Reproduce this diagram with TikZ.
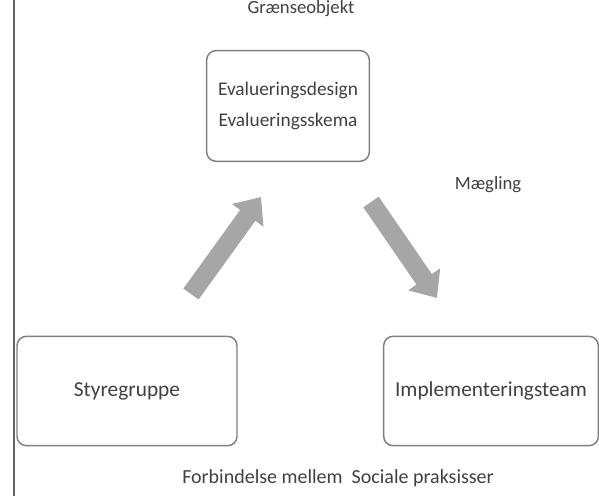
\documentclass[tikz,border=0pt]{standalone}
\usepackage{fontspec}
\setmainfont{Carlito}
\usetikzlibrary{arrows.meta}

\definecolor{boxgray}{HTML}{7F7F7F}
\definecolor{arrowgray}{HTML}{A6A6A6}
\definecolor{textgray}{HTML}{404040}

\tikzset{
    box/.style={draw=boxgray, line width=1.1pt, rounded corners=7pt, text=textgray},
    bigarrow/.style={draw=arrowgray, line width=14pt, -{Triangle[width=28pt,length=17pt]}},
    lbl/.style={text=textgray}
}

\begin{document}
\begin{tikzpicture}[x=0.75pt, y=-0.75pt, font=\fontsize{15}{18}\selectfont]
        \useasboundingbox (0,0) rectangle (599,496);
        % left margin line
        \draw[boxgray!80!black, line width=2pt] (14,0) -- (14,496);

        \node[lbl, font=\fontsize{14}{17}\selectfont] (graense) at (301,9) {Grænseobjekt};
        \node[box, minimum width=122pt, minimum height=83pt, align=center,
              font=\fontsize{14.5}{17}\selectfont] (eval) at (288,106)
            {Evalueringsdesign\\[6pt]Evalueringsskema};
        \node[lbl, font=\fontsize{14}{17}\selectfont] (maegling) at (488,185) {Mægling};
        \node[box, minimum width=165pt, minimum height=82pt, font=\fontsize{16}{19}\selectfont] (styre) at (127,391) {Styregruppe};
        \node[box, minimum width=161pt, minimum height=82pt, font=\fontsize{16}{19}\selectfont] (impl) at (491,391) {Implementeringsteam};
        \node[lbl] (forb) at (338,478) {Forbindelse mellem\ \ Sociale praksisser};

        \coordinate (upstart) at (191,294);
        \coordinate (upend) at (261,197);
        \coordinate (downstart) at (371,202);
        \coordinate (downend) at (437,298);
        \draw[bigarrow] (upstart) -- (upend);
        \draw[bigarrow] (downstart) -- (downend);
    \end{tikzpicture}
\end{document}
